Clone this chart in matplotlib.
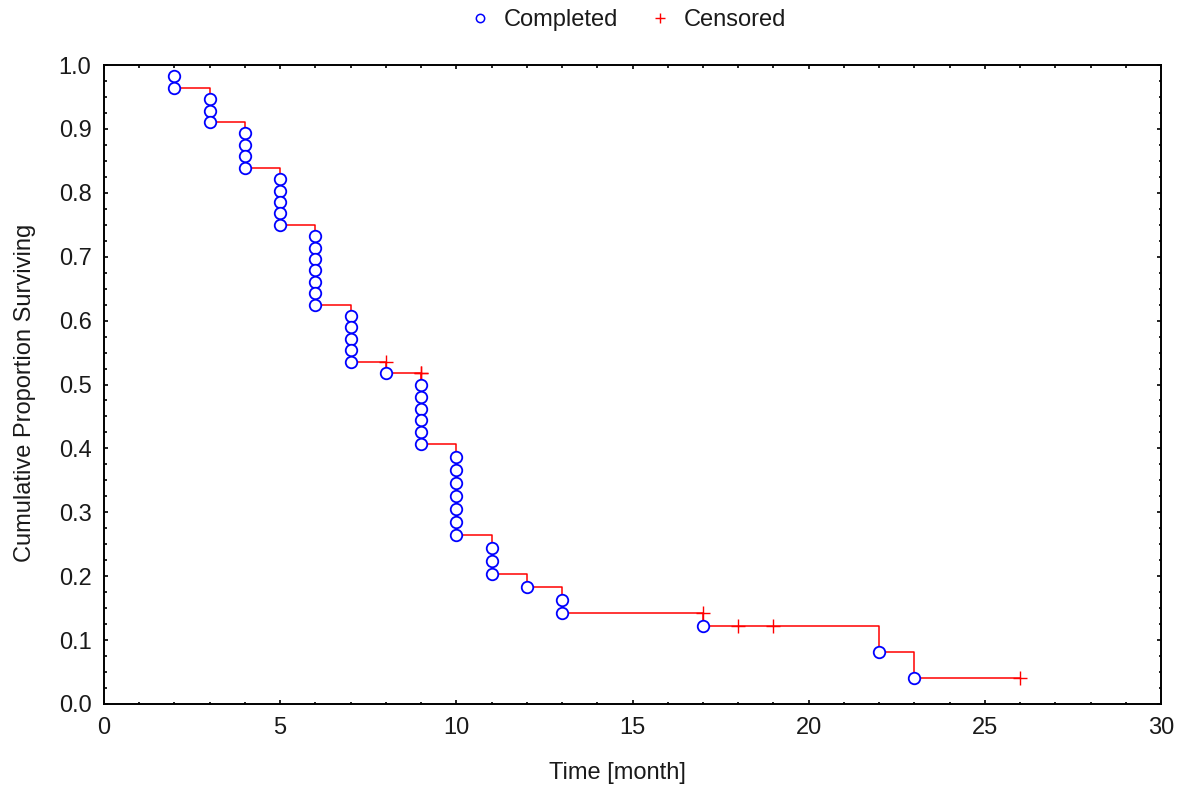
"""Kaplan-Meier style survival plot (completed vs censored)."""

import matplotlib

matplotlib.use("Agg")
import matplotlib.pyplot as plt
from matplotlib import font_manager
from matplotlib.lines import Line2D
from matplotlib.ticker import MultipleLocator

# observed data: completion times (with counts) and censored times, in months
completed_times = [2, 3, 4, 5, 6, 7, 8, 9, 10, 11, 12, 13, 17, 22, 23]
completed_counts = [2, 3, 4, 5, 7, 5, 1, 6, 7, 3, 1, 2, 1, 1, 1]
censored_times = [8, 9, 9, 17, 18, 19, 26]

x_ticks = [0, 5, 10, 15, 20, 25, 30]
y_ticks = [0.0, 0.1, 0.2, 0.3, 0.4, 0.5, 0.6, 0.7, 0.8, 0.9, 1.0]


def _pick_font():
    names = {f.name for f in font_manager.fontManager.ttflist}
    for name, size in (("Liberation Sans Narrow", 20.5), ("DejaVu Sans Condensed", 16.5)):
        if name in names:
            return name, size
    return "Liberation Sans", 17


def km_points():
    """Product-limit estimate; events are taken before censorings at ties."""
    at_risk = sum(completed_counts) + len(censored_times)
    surv = 1.0
    events = dict(zip(completed_times, completed_counts))
    all_times = sorted(set(completed_times) | set(censored_times))
    circ_x, circ_y, cens_x, cens_y = [], [], [], []
    step_x, step_y = [], []
    for t in all_times:
        d = events.get(t, 0)
        c = censored_times.count(t)
        before = surv
        for k in range(1, d + 1):
            circ_x.append(t)
            circ_y.append(before * (1 - k / at_risk))
        if d:
            surv = before * (1 - d / at_risk)
            step_x.append(t)
            step_y.append(surv)
        for _ in range(c):
            cens_x.append(t)
            cens_y.append(before)
        at_risk -= d + c
    step_x.append(max(all_times))
    step_y.append(surv)
    return step_x, step_y, circ_x, circ_y, cens_x, cens_y


def main():
    family, fsize = _pick_font()
    plt.rcParams["font.family"] = [family, "DejaVu Sans"]
    plt.rcParams["font.size"] = fsize

    step_x, step_y, circ_x, circ_y, cens_x, cens_y = km_points()

    fig = plt.figure(figsize=(11.86, 7.91), dpi=100)
    fig.patch.set_facecolor("white")
    ax = fig.add_axes([104 / 1186, 1 - 704 / 791, (1161 - 104) / 1186, (704 - 65) / 791])

    ax.step(step_x, step_y, where="post", color="#FF0000", lw=1.1, zorder=2)
    ax.plot(cens_x, cens_y, ls="none", marker="+", ms=9.5, mew=1.0,
            color="#FF0000", zorder=3)
    ax.plot(circ_x, circ_y, ls="none", marker="o", ms=8.3, mew=1.3,
            mec="#0000FF", mfc="white", zorder=4)

    ax.set_xlim(0, 30)
    ax.set_ylim(0, 1.0)
    ax.set_xticks(x_ticks)
    ax.set_yticks(y_ticks)
    ax.set_yticklabels([f"{v:.1f}" for v in y_ticks])
    ax.xaxis.set_minor_locator(MultipleLocator(1))
    ax.yaxis.set_minor_locator(MultipleLocator(0.025))
    ax.tick_params(which="both", direction="in", top=True, right=True,
                   width=1.2, colors="black", labelcolor="#1a1a1a")
    ax.tick_params(which="major", length=3.0)
    ax.tick_params(which="minor", length=1.8)
    ax.tick_params(axis="x", which="major", pad=9)
    ax.tick_params(axis="y", which="major", pad=9)
    for spine in ax.spines.values():
        spine.set_linewidth(1.4)
        spine.set_color("black")

    ax.set_xlabel("Time [month]", color="#1a1a1a")
    ax.set_ylabel("Cumulative Proportion Surviving", color="#1a1a1a")
    ax.xaxis.set_label_coords((617 - 104) / 1057, (704 - 762) / 639)
    ax.yaxis.set_label_coords((36 - 104) / 1057, (704 - 393) / 639)

    handles = [
        Line2D([], [], ls="none", marker="o", ms=6, mew=1.1, mec="#0000FF", mfc="white"),
        Line2D([], [], ls="none", marker="+", ms=7, mew=1.0, color="#FF0000"),
    ]
    fig.legend(handles, ["Completed", "Censored"], loc="center",
               bbox_to_anchor=(627 / 1186, 1 - 20 / 791), ncol=2, frameon=False,
               handlelength=1.0, handletextpad=0.5, columnspacing=1.3,
               labelcolor="#1a1a1a")

    fig.savefig("out.png", dpi=100, facecolor="white")
    plt.close(fig)


if __name__ == "__main__":
    main()
